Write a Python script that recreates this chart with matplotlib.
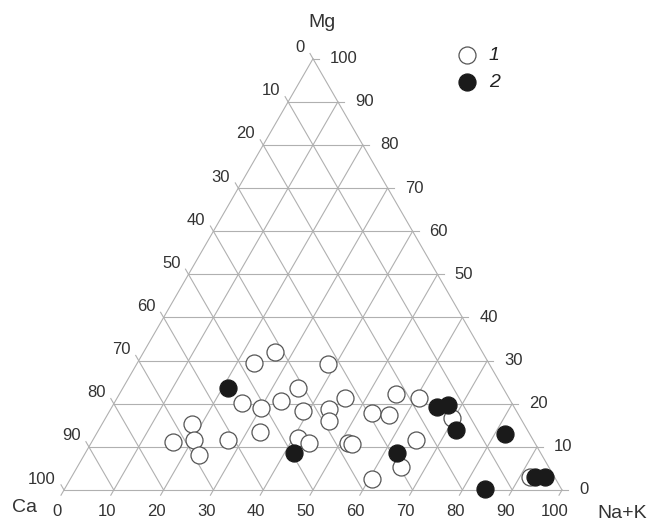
import numpy as np
import matplotlib.pyplot as plt

plt.rcParams['font.family'] = ['Liberation Sans', 'DejaVu Sans']

# Na+K and Mg contents (%), Ca = 100 - Na+K - Mg
nak_1 = [26.4, 23.5, 38.5, 35.2, 25.7, 30.1, 33.3, 38.8, 43.8, 45.1,
         45.7, 55.6, 60.6, 52.9, 56.5, 69.6, 18.2, 20.2, 16.2, 23.0,
         27.1, 32.6, 41.0, 43.8, 51.7, 52.6, 64.8, 65.1, 60.6, 92.1]
mg_1 = [31.9, 29.5, 29.2, 23.7, 20.2, 18.9, 20.6, 18.3, 18.7, 16.1,
        21.4, 22.2, 21.4, 17.8, 17.4, 16.6, 15.2, 11.7, 11.2, 8.1,
        11.7, 13.4, 12.1, 10.8, 10.8, 10.6, 11.7, 5.3, 2.5, 2.9]

nak_2 = [21.1, 41.9, 62.6, 65.3, 67.2, 71.8, 82.1, 84.3, 93.0, 95.1]
mg_2 = [23.7, 8.6, 8.6, 19.3, 19.8, 13.9, 12.9, 0.3, 3.1, 3.1]

ticks = np.arange(0, 101, 10)
group_labels = ['1', '2']

H = np.sqrt(3) / 2
PX = 498.0  # pixels per unit side


def tern(nak, mg):
    nak = np.asarray(nak, float) / 100
    mg = np.asarray(mg, float) / 100
    return nak + mg / 2, mg * H


fig = plt.figure(figsize=(6.52, 5.22), dpi=100)
ax = fig.add_axes([0, 0, 1, 1])
ax.set_xlim(-64 / PX, (652 - 64) / PX)
ax.set_ylim(-32 / PX, 490 / PX)
ax.set_aspect('equal')
ax.axis('off')

gc = '#b0b0b0'
lw = 0.8
tk = 6 / PX  # tick length
txt = '#333333'

# grid lines, each extended past one edge as a tick
for v in ticks:
    # Mg = const (horizontal), tick to the right
    x0, y0 = tern(0, v)
    x1, y1 = tern(100 - v, v)
    ax.plot([x0, x1 + tk], [y0, y1], color=gc, lw=lw, zorder=1)
    ax.text(x1 + 17 / PX, y1, str(v), ha='left', va='center',
            fontsize=12, color=txt)
    # Na+K = const, tick below the base
    x0, y0 = tern(v, 0)
    x1, y1 = tern(v, 100 - v)
    ax.plot([x0 - tk * 0.5, x1], [y0 - tk * H, y1], color=gc, lw=lw, zorder=1)
    ax.text(x0 - 7 / PX, y0 - 22 / PX, str(v), ha='center', va='center',
            fontsize=12, color=txt)
    # Ca = const, tick beyond the left side
    ca = v
    x0, y0 = tern(100 - ca, 0)
    x1, y1 = tern(0, 100 - ca)
    ax.plot([x0, x1 - tk * 0.5], [y0, y1 + tk * H], color=gc, lw=lw, zorder=1)
    ax.text(x1 - 8 / PX, y1 + 11 / PX, str(ca), ha='right', va='center',
            fontsize=12, color=txt)

# axis names
ax.text(tern(0, 100)[0] + 9 / PX, tern(0, 100)[1] + 36 / PX, 'Mg',
        ha='center', va='center', fontsize=14, color=txt)
ax.text(-39 / PX, -18 / PX, 'Ca', ha='center', va='center',
        fontsize=14, color=txt)
ax.text(1 + 60 / PX, -23 / PX, 'Na+K', ha='center', va='center',
        fontsize=14, color=txt)

x, y = tern(nak_1, mg_1)
h1 = ax.scatter(x, y, s=150, facecolor='white', edgecolor='#555555',
                linewidth=0.9, zorder=3, label=group_labels[0])
x, y = tern(nak_2, mg_2)
h2 = ax.scatter(x, y, s=150, facecolor='#1a1a1a', edgecolor='#1a1a1a',
                linewidth=0.9, zorder=4, label=group_labels[1])

leg = ax.legend(handles=[h1, h2], loc='upper left',
                bbox_to_anchor=(446 / 652, 1 - 37 / 522),
                frameon=False, borderpad=0, handlelength=1.2,
                handletextpad=0.5, labelspacing=0.45,
                prop={'style': 'italic', 'size': 14})
for t in leg.get_texts():
    t.set_color('#222222')

fig.savefig('out.png', dpi=100)
